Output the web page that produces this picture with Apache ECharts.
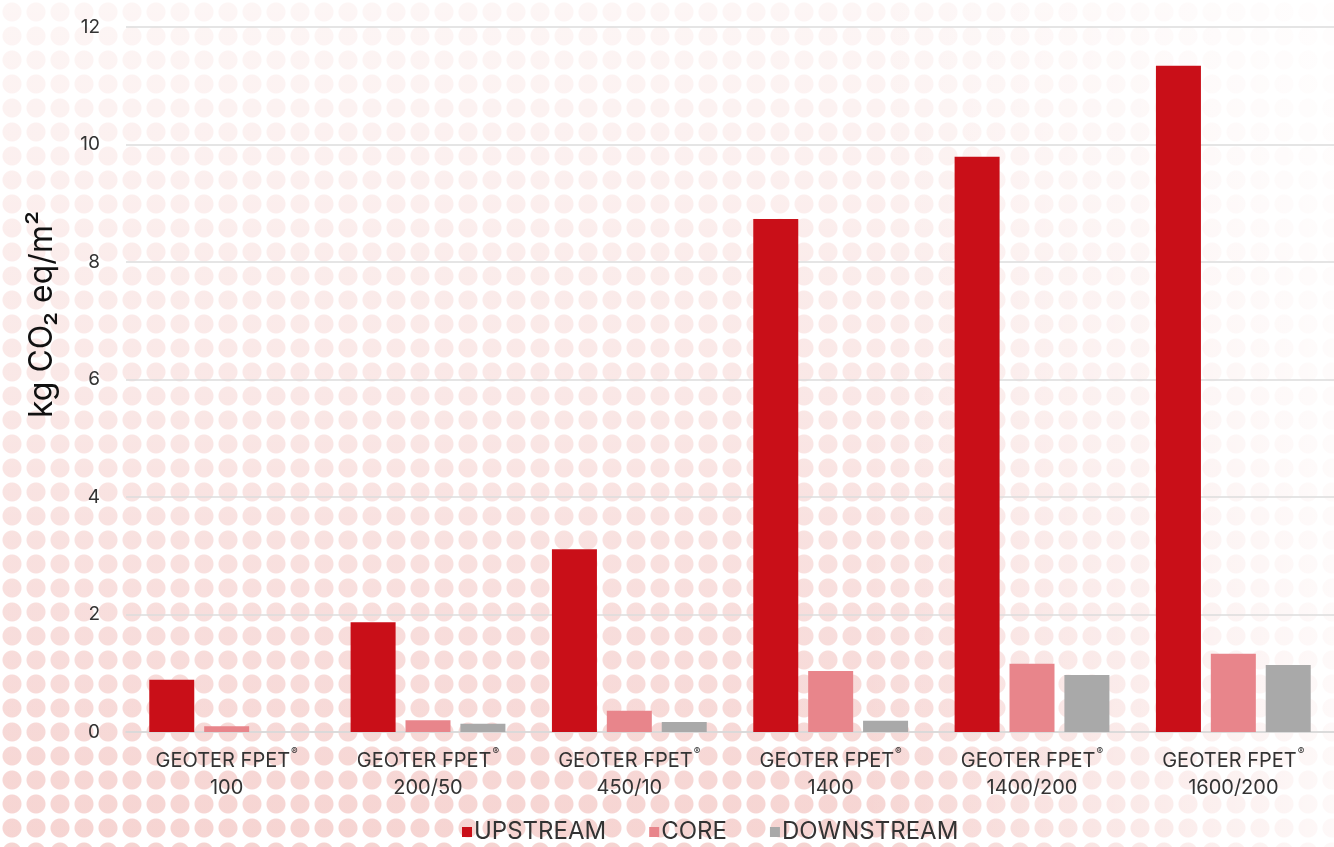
<!DOCTYPE html>
<html>
<head>
<meta charset="utf-8">
<script src="https://cdn.jsdelivr.net/npm/echarts@6/dist/echarts.min.js"></script>
<style>
html,body{margin:0;padding:0;}
body{
  width:1334px;height:847px;overflow:hidden;
  background-color:#fff;
  background-image:
    linear-gradient(to left, rgba(255,255,255,0.85) 0%, rgba(255,255,255,0.0) 35%),
    linear-gradient(to bottom, rgba(255,255,255,0.8) 0%, rgba(255,255,255,0.45) 50%, rgba(255,255,255,0.05) 100%),
    radial-gradient(circle, rgba(236,165,160,0.5) 9px, rgba(255,255,255,0) 10px);
  background-size: 100% 100%, 100% 100%, 24px 24px;
}
#chart{width:1334px;height:847px;}
</style>
</head>
<body>
<div id="chart"></div>
<script>
const categories = ['100', '200/50', '450/10', '1400', '1400/200', '1600/200'];
const categoryPrefix = 'GEOTER FPET';
const upstream = [0.89, 1.87, 3.11, 8.73, 9.79, 11.34];
const core = [0.1, 0.2, 0.36, 1.04, 1.16, 1.33];
const downstream = [0, 0.14, 0.17, 0.19, 0.97, 1.14];
const seriesNames = ['UPSTREAM', 'CORE', 'DOWNSTREAM'];
const yTicks = { min: 0, max: 12, interval: 2 };

const chart = echarts.init(document.getElementById('chart'));
const font = 'Inter, "Noto Sans", sans-serif';
chart.setOption({
  backgroundColor: 'transparent',
  animation: false,
  grid: { left: 126, right: -4, top: 27, bottom: 115 },
  legend: {
    bottom: -2, left: 457,
    itemWidth: 10, itemHeight: 10, itemGap: 43,
    icon: 'rect',
    textStyle: { fontFamily: font, fontSize: 24, color: '#333', padding: [2, 0, 0, -3] },
    data: seriesNames
  },
  xAxis: {
    type: 'category',
    data: categories,
    axisLine: { show: true, lineStyle: { color: '#d8d8d8', width: 1.5 } },
    axisTick: { show: false },
    axisLabel: {
      margin: 15,
      interval: 0,
      formatter: v => '{a|' + categoryPrefix + '}{r|®}\n{a|' + v + '}',
      rich: {
        a: { fontFamily: font, fontSize: 20, color: '#333', lineHeight: 27 },
        r: { fontFamily: font, fontSize: 10, color: '#333', verticalAlign: 'top', lineHeight: 27, padding: [0, 0, 8, 1] }
      }
    }
  },
  yAxis: {
    type: 'value',
    min: yTicks.min, max: yTicks.max, interval: yTicks.interval,
    name: 'kg CO₂ eq/m²',
    nameLocation: 'middle',
    nameGap: 68,
    nameRotate: 90,
    nameTextStyle: { fontFamily: font, fontSize: 32, color: '#111', padding: [0, 0, 0, 130] },
    axisLine: { show: false },
    axisTick: { show: false },
    axisLabel: { fontFamily: font, fontSize: 19, color: '#333', margin: 26 },
    splitLine: { lineStyle: { color: '#dcdcdc', width: 1.5 } }
  },
  series: [
    { name: seriesNames[0], type: 'bar', data: upstream, barWidth: 45, barGap: '22%',
      itemStyle: { color: '#c90f18' } },
    { name: seriesNames[1], type: 'bar', data: core, barWidth: 45, barGap: '22%',
      itemStyle: { color: '#e8858b' } },
    { name: seriesNames[2], type: 'bar', data: downstream, barWidth: 45, barGap: '22%',
      itemStyle: { color: '#a9a9a9' } }
  ]
});
</script>
</body>
</html>
